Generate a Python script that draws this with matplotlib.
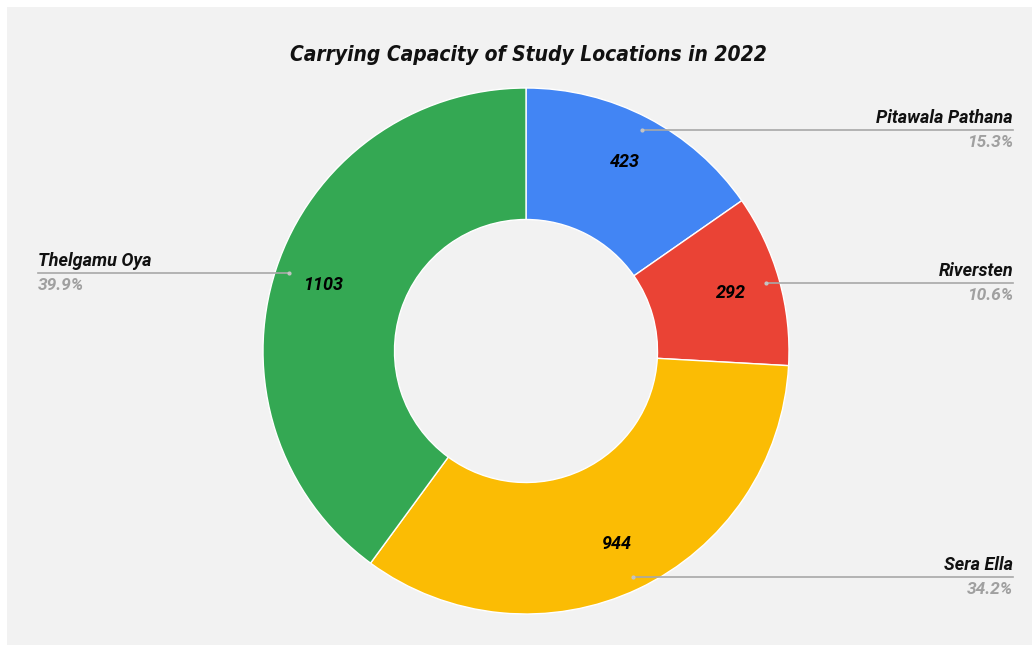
import matplotlib.pyplot as plt
import numpy as np
from matplotlib.patches import Rectangle

locations = ['Pitawala Pathana', 'Riversten', 'Sera Ella', 'Thelgamu Oya']
capacity = [423, 292, 944, 1103]
colors = ['#4285f4', '#ea4335', '#fbbc04', '#34a853']

W, H = 1032, 646
fig = plt.figure(figsize=(W / 100, H / 100), dpi=100, facecolor='white')
ax = fig.add_axes([0, 0, 1, 1])

# grey chart panel
ax.add_patch(Rectangle((7, 1), W - 7, H - 8, facecolor='#f2f2f2', edgecolor='none', zorder=0))

cx, cy, R = 526, 295, 263
ax.pie(capacity, colors=colors, startangle=90, counterclock=False,
       radius=R, center=(cx, cy),
       wedgeprops=dict(width=R * 0.5, edgecolor='white', linewidth=1))

total = sum(capacity)
pcts = [v / total * 100 for v in capacity]
cum = np.cumsum([0] + capacity[:-1])
font = 'Roboto'
for name, v, p, c0 in zip(locations, capacity, pcts, cum):
    mid = 90 - (c0 + v / 2) / total * 360
    th = np.deg2rad(mid)
    # value inside the ring
    ax.text(cx + 0.81 * R * np.cos(th), cy + 0.81 * R * np.sin(th), str(v),
            ha='center', va='center', fontsize=13, fontweight='bold',
            fontstyle='italic', family=font, color='black')
    # leader line to the side label
    px, py = cx + 0.95 * R * np.cos(th), cy + 0.95 * R * np.sin(th)
    if np.cos(th) >= 0:
        x_end, ha = 1013, 'right'
    else:
        x_end, ha = 38, 'left'
    ax.plot([px, x_end], [py, py], color='#a8a8a8', lw=1.2, zorder=3)
    ax.plot(px, py, 'o', ms=2, color='#c4c4c4', zorder=4)
    ax.text(x_end, py + 3, name, ha=ha, va='bottom', fontsize=13,
            fontweight='bold', fontstyle='italic', family=font, color='#111111')
    ax.text(x_end, py - 5, f'{p:.1f}%', ha=ha, va='top', fontsize=12.5,
            fontweight='bold', fontstyle='italic', family=font, color='#a0a0a0')

ax.text(528, H - 55, 'Carrying Capacity of Study Locations in 2022',
        ha='center', va='center', fontsize=15, fontweight='bold',
        fontstyle='italic', fontstretch='condensed', family='DejaVu Sans',
        color='#111111')

ax.set_xlim(0, W)
ax.set_ylim(0, H)
ax.set_aspect('auto')
ax.axis('off')

fig.savefig('out.png', dpi=100, facecolor='white')
